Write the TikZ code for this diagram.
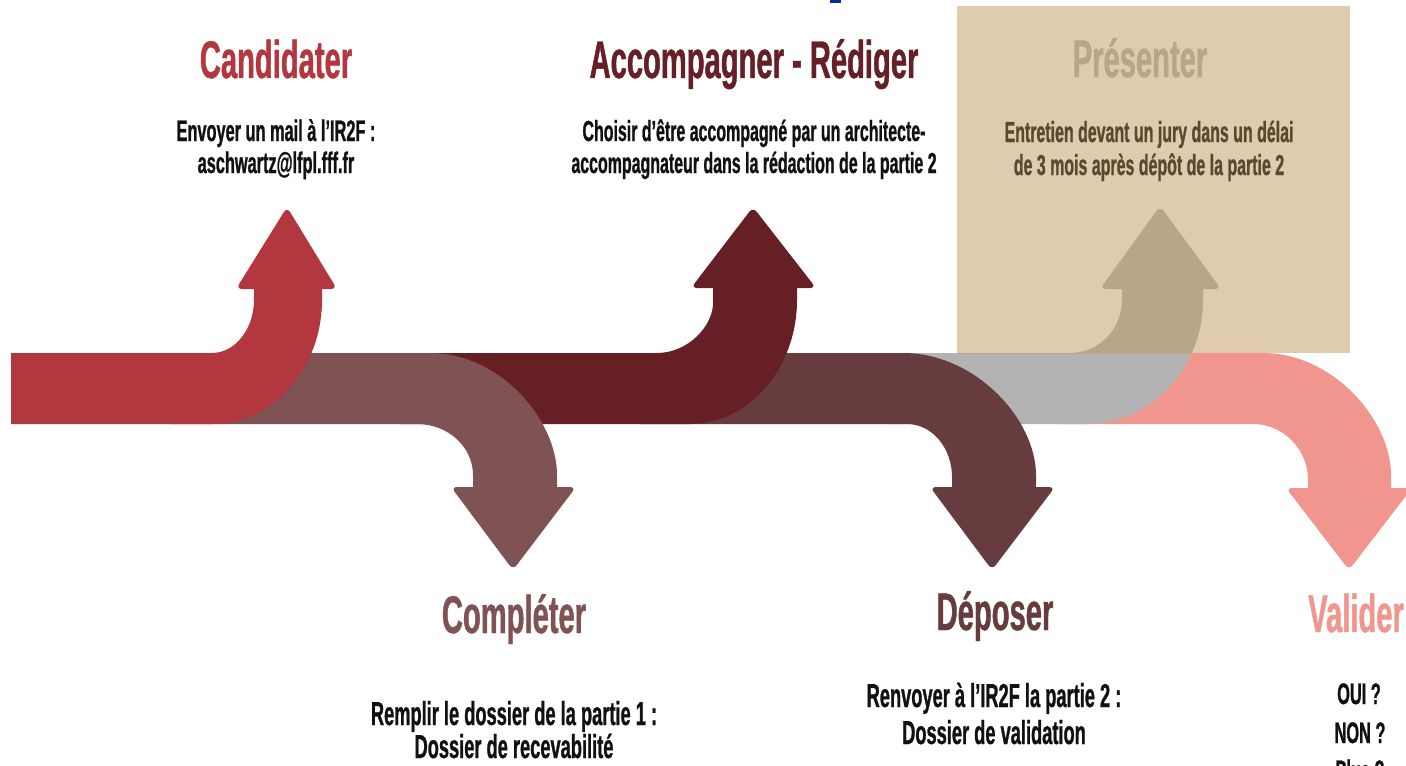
\documentclass[tikz,border=0pt]{standalone}
\usepackage{fontspec}
\newfontfamily\cond{Liberation Sans}[FakeStretch=0.55, FakeBold=0.8]
\definecolor{cRed}{HTML}{B3373E}
\definecolor{cBrown}{HTML}{7F5254}
\definecolor{cDark}{HTML}{661F24}
\definecolor{cDep}{HTML}{663C3E}
\definecolor{cGrey}{HTML}{B3B3B3}
\definecolor{cTan}{HTML}{B8A687}
\definecolor{cBox}{HTML}{DFCBAE}
\definecolor{cPink}{HTML}{F0968F}
\definecolor{cPresText}{HTML}{5C4830}
\definecolor{cBlue}{HTML}{00338D}
\definecolor{cBody}{HTML}{111111}
\tikzset{
  ttl/.style={font=\cond\bfseries\fontsize{26.5}{30}\selectfont, anchor=base, inner sep=0pt},
  bodytxt/.style={font=\cond\bfseries\fontsize{14.85}{16}\selectfont, anchor=base, inner sep=0pt, text=cBody},
  bodysm/.style={bodytxt, font=\cond\bfseries\fontsize{14.5}{16}\selectfont},
  bodylg/.style={bodytxt, font=\cond\bfseries\fontsize{16.6}{18}\selectfont},
  headtip/.style={rounded corners=3pt},
}
\newcommand\presbody[1]{%
  \fill[#1] (888,353) -- (1070,353) .. controls (1099,353) and (1122,329) .. (1122,300) -- (1122,286) -- (1203,286) -- (1203,300) .. controls (1203,368) and (1151,424) .. (1087,424) -- (888,424) -- cycle;
  \fill[#1, headtip] (1100,289) -- (1160,206) -- (1221,289) -- cycle;}
\begin{document}
\begin{tikzpicture}[x=0.5pt, y=-0.5pt]
\useasboundingbox (0,0) rectangle (1406,765);
\fill[white] (0,0) rectangle (1406,765);
% small blue mark at top
\fill[cBlue] (830,0) rectangle (841,3);

% Valider (pink), bottom-most
\fill[cPink] (1060,353) -- (1263,353) .. controls (1333,353) and (1391,420) .. (1391,475) -- (1391,490) -- (1308,490) -- (1308,480) .. controls (1308,449) and (1283,424) .. (1253,424) -- (1060,424) -- cycle;
\fill[cPink, headtip] (1286,488) -- (1349,570) -- (1412,488) -- cycle;

% Presenter (grey), box, tan part inside box
\presbody{cGrey}
\fill[cBox] (957,6) rectangle (1350,353);
\begin{scope}
  \clip (957,6) rectangle (1350,353);
  \presbody{cTan}
\end{scope}

% Deposer
\fill[cDep] (640,353) -- (903,353) .. controls (976,353) and (1036,420) .. (1036,475) -- (1036,490) -- (952,490) -- (952,477) .. controls (952,448) and (932,424) .. (907,424) -- (640,424) -- cycle;
\fill[cDep, headtip] (930,487) -- (992,570) -- (1055,487) -- cycle;

% Accompagner
\fill[cDark] (400,353) -- (657,353) .. controls (688,353) and (713,326) .. (713,303) -- (713,285) -- (797,285) -- (797,300) .. controls (797,368) and (749,424) .. (690,424) -- (400,424) -- cycle;
\fill[cDark, headtip] (691,288) -- (753,207) -- (816,288) -- cycle;

% Completer
\fill[cBrown] (170,353) -- (430,353) .. controls (500,353) and (557,420) .. (557,475) -- (557,490) -- (473,490) -- (473,475) .. controls (473,447) and (448,424) .. (417,424) -- (170,424) -- cycle;
\fill[cBrown, headtip] (451,487) -- (513,570) -- (576,487) -- cycle;

% Candidater
\fill[cRed] (11,353) -- (212,353) .. controls (235,353) and (254,329) .. (254,300) -- (254,286) -- (322,286) -- (322,300) .. controls (322,368) and (273,424) .. (213,424) -- (11,424) -- cycle;
\fill[cRed, headtip] (236,289) -- (287,207) -- (337,289) -- cycle;

% Titles
\node[ttl, text=cRed] (tCand) at (276,78) {Candidater};
\node[ttl, text=cDark] (tAcc) at (754,78) {Accompagner - Rédiger};
\node[ttl, text=cTan] (tPres) at (1140,77) {Présenter};
\node[ttl, text=cBrown] (tComp) at (514,633) {Compléter};
\node[ttl, text=cDep] (tDep) at (995,630) {Déposer};
\node[ttl, text=cPink] (tVal) at (1356,632) {Valider};

% Body texts
\node[bodytxt] (bCand1) at (276,141) {Envoyer un mail à l’IR2F :};
\node[bodytxt] (bCand2) at (276,173) {aschwartz@lfpl.fff.fr};
\node[bodysm] (bAcc1) at (754,141) {Choisir d’être accompagné par un architecte-};
\node[bodysm] (bAcc2) at (754,173) {accompagnateur dans la rédaction de la partie 2};
\node[bodysm, text=cPresText] (bPres1) at (1149,142) {Entretien devant un jury dans un délai};
\node[bodysm, text=cPresText] (bPres2) at (1149,175) {de 3 mois après dépôt de la partie 2};
\node[bodylg] (bComp1) at (514,725) {Remplir le dossier de la partie 1 :};
\node[bodylg] (bComp2) at (514,758) {Dossier de recevabilité};
\node[bodylg] (bDep1) at (994,707) {Renvoyer à l’IR2F la partie 2 :};
\node[bodylg] (bDep2) at (994,744) {Dossier de validation};
\node[bodytxt] (bVal1) at (1359,704) {OUI ?};
\node[bodytxt] (bVal2) at (1360,743) {NON ?};
\node[bodytxt] (bVal3) at (1360,781) {Plus ?};
\end{tikzpicture}
\end{document}
